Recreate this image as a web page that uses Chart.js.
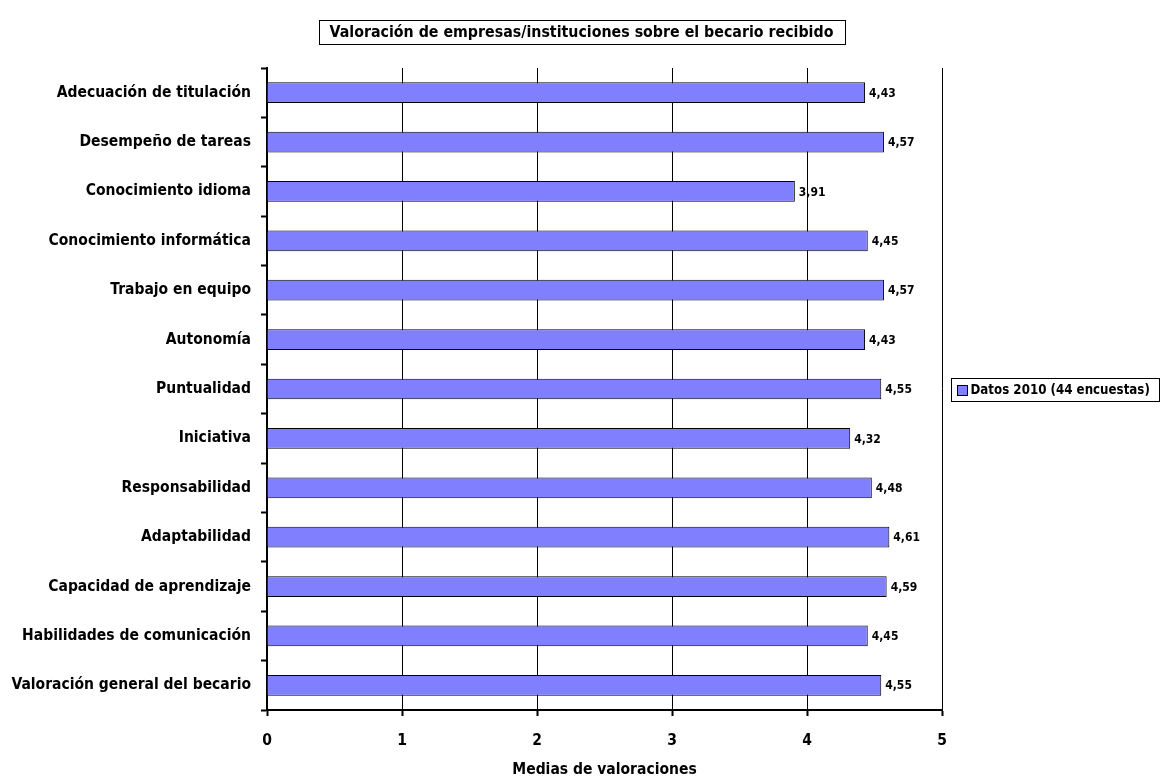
<!DOCTYPE html>
<html>
<head>
<meta charset="utf-8">
<script src="https://cdn.jsdelivr.net/npm/chart.js@4"></script>
<style>
  html, body { margin: 0; padding: 0; background: #fff; }
  #wrap { width: 1165px; height: 783px; }
</style>
</head>
<body>
<div id="wrap"><canvas id="myChart" width="1165" height="783"></canvas></div>
<script>
const categories = [
  "Adecuación de titulación",
  "Desempeño de tareas",
  "Conocimiento idioma",
  "Conocimiento informática",
  "Trabajo en equipo",
  "Autonomía",
  "Puntualidad",
  "Iniciativa",
  "Responsabilidad",
  "Adaptabilidad",
  "Capacidad de aprendizaje",
  "Habilidades de comunicación",
  "Valoración general del becario",
];
const values2010 = [4.43, 4.57, 3.91, 4.45, 4.57, 4.43, 4.55, 4.32, 4.48, 4.61, 4.59, 4.45, 4.55];
const xTicks = [0, 1, 2, 3, 4, 5];

const FONT = '"Liberation Sans Narrow", "Arial Narrow", "DejaVu Sans Condensed", sans-serif';
const titleText = "Valoración de empresas/instituciones sobre el becario recibido";
const legendText = "Datos 2010 (44 encuestas)";

// title box, legend box on the right, value labels at bar ends
const extras = {
  id: "extras",
  afterDatasetsDraw(chart) {
    const ctx = chart.ctx;
    const meta = chart.getDatasetMeta(0);
    ctx.save();
    ctx.font = "bold 12px " + FONT;
    ctx.fillStyle = "#000";
    ctx.textBaseline = "middle";
    ctx.textAlign = "left";
    meta.data.forEach((bar, i) => {
      ctx.fillText(values2010[i].toFixed(2).replace(".", ","), bar.x + 4, bar.y + 1);
    });
    ctx.restore();
  },
  afterDraw(chart) {
    const ctx = chart.ctx;
    ctx.save();
    ctx.strokeStyle = "#000";
    ctx.lineWidth = 1;
    ctx.fillStyle = "#000";

    // title
    ctx.font = "bold 15.8px " + FONT;
    const tw = ctx.measureText(titleText).width;
    const cx = 581.5;
    ctx.strokeRect(Math.round(cx - tw / 2 - 11) + 0.5, 20.5, Math.round(tw + 22), 24);
    ctx.textAlign = "center";
    ctx.textBaseline = "middle";
    ctx.fillText(titleText, cx, 33);

    // legend
    ctx.font = "bold 13.2px " + FONT;
    ctx.textAlign = "left";
    const lx = 951.5, ly = 378.5;
    ctx.strokeRect(lx, ly, 208, 23);
    const ds = chart.data.datasets[0];
    ctx.fillStyle = ds.backgroundColor;
    ctx.fillRect(lx + 6, ly + 7, 10, 10);
    ctx.strokeRect(lx + 6, ly + 7, 10, 10);
    ctx.fillStyle = "#000";
    ctx.fillText(legendText, lx + 19, ly + 12.5);
    ctx.restore();
  },
};

new Chart(document.getElementById("myChart"), {
  type: "bar",
  data: {
    labels: categories,
    datasets: [
      {
        label: legendText,
        data: values2010,
        backgroundColor: "#8080ff",
        borderColor: "#000",
        borderWidth: 1,
        categoryPercentage: 1,
        barPercentage: 0.42,
      },
    ],
  },
  options: {
    indexAxis: "y",
    responsive: false,
    animation: false,
    layout: { padding: { top: 68, right: 223, left: 0, bottom: 0 } },
    plugins: {
      legend: { display: false },
      tooltip: { enabled: false },
      title: { display: false },
    },
    scales: {
      x: {
        min: 0,
        max: 5,
        afterFit: (s) => { s.height = 73; },
        afterBuildTicks: (s) => { s.ticks = xTicks.map((v) => ({ value: v })); },
        grid: { color: "#000", lineWidth: 1, tickLength: 6, tickWidth: 2, tickColor: "#000" },
        border: { display: true, color: "#000", width: 2 },
        ticks: {
          color: "#000",
          padding: 16,
          font: { family: FONT, size: 15.5, weight: "bold" },
        },
        title: {
          display: true,
          text: "Medias de valoraciones",
          color: "#000",
          font: { family: FONT, size: 15.5, weight: "bold" },
          padding: { top: 12 },
        },
      },
      y: {
        afterFit: (s) => { s.width = 267; },
        grid: { drawOnChartArea: false, tickLength: 6, tickWidth: 2, tickColor: "#000", offset: true },
        border: { display: true, color: "#000", width: 2 },
        ticks: {
          color: "#000",
          padding: 10,
          font: { family: FONT, size: 15.5, weight: "bold" },
        },
      },
    },
  },
  plugins: [extras],
});
</script>
</body>
</html>
